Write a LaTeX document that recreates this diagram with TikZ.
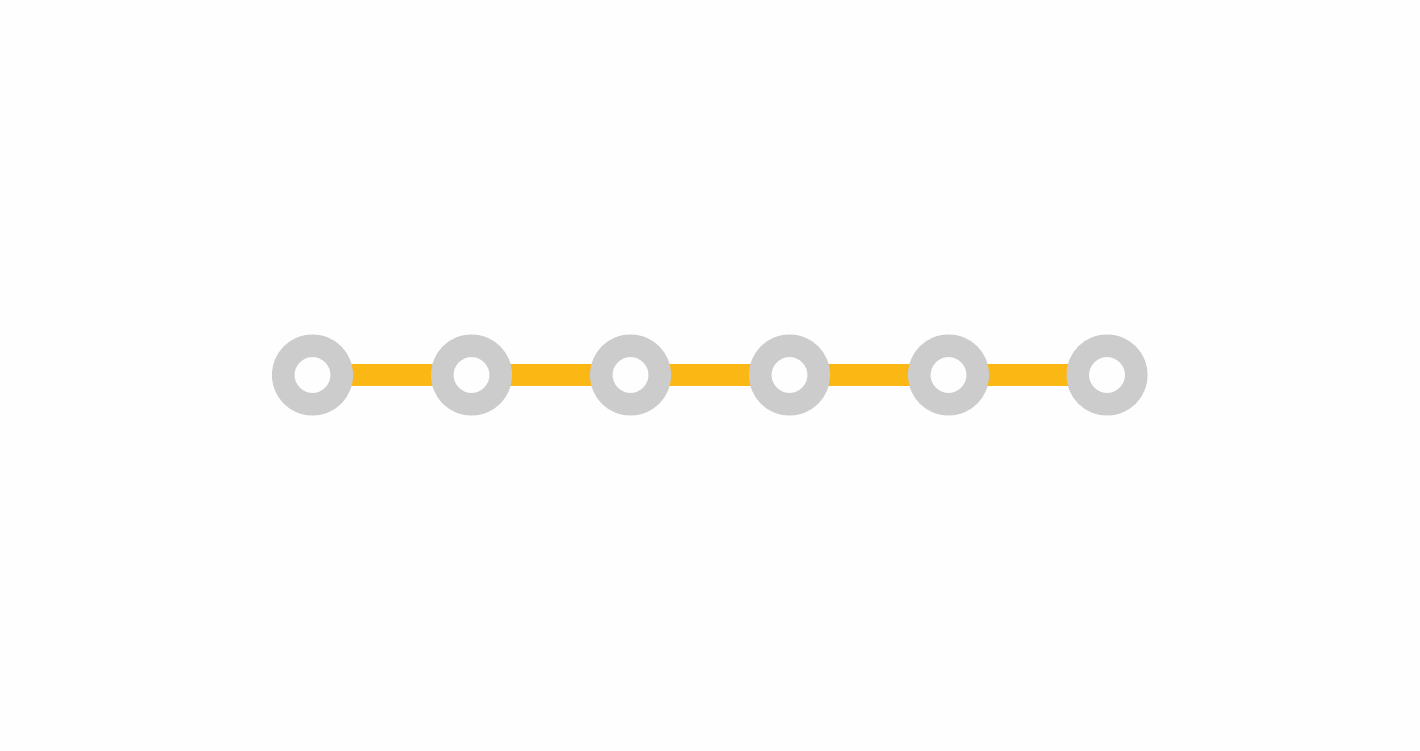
\documentclass[tikz,border=0pt]{standalone}
\usetikzlibrary{backgrounds}
\definecolor{ringgray}{HTML}{CCCCCC}
\definecolor{linkorange}{HTML}{FBB714}
\definecolor{bgwhite}{HTML}{FEFEFE}
\begin{document}
\begin{tikzpicture}[x=1pt,y=1pt,
  station/.style={circle,inner sep=0pt,minimum size=58.5pt,draw=ringgray,line width=22.5pt,fill=bgwhite},
  link/.style={draw=linkorange,line width=22pt}]
\useasboundingbox (0,0) rectangle (1420,750);
\node[station] (s1) at (312.5,375) {};
\node[station] (s2) at (471.5,375) {};
\node[station] (s3) at (630.5,375) {};
\node[station] (s4) at (789.5,375) {};
\node[station] (s5) at (948.5,375) {};
\node[station] (s6) at (1107,375) {};
\begin{scope}[on background layer]
\fill[bgwhite] (0,0) rectangle (1420,750);
\draw[link] (s1.center) -- (s2.center);
\draw[link] (s2.center) -- (s3.center);
\draw[link] (s3.center) -- (s4.center);
\draw[link] (s4.center) -- (s5.center);
\draw[link] (s5.center) -- (s6.center);
\end{scope}
\end{tikzpicture}
\end{document}
